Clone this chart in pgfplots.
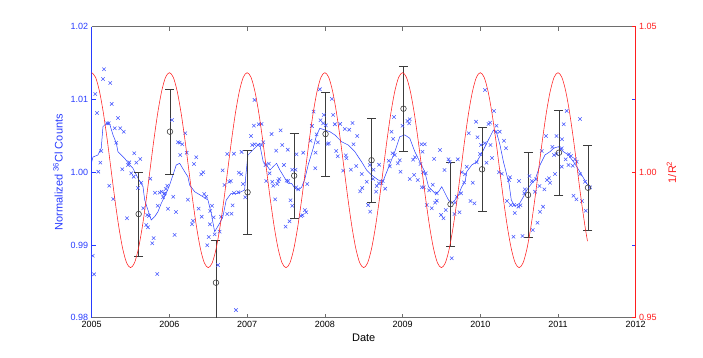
\documentclass[border=0pt]{standalone}
\usepackage{fontspec}
\setmainfont{Liberation Sans}
\usepackage{pgfplots}
\usepackage{pgfplotstable}
\pgfplotsset{compat=1.18}
\definecolor{mblue}{RGB}{40,60,255}
\definecolor{mred}{RGB}{255,30,30}
\definecolor{mgray}{RGB}{110,110,110}
\definecolor{ebar}{RGB}{60,60,60}

\pgfplotstableread{
x y
2005.158 1.01415
2005.145 1.01282
2005.239 1.01227
2005.046 1.01075
2005.257 1.00938
2005.068 1.00814
2005.338 1.00745
2005.201 1.00672
2005.219 1.00672
2005.296 1.00604
2005.368 1.00604
2005.412 1.00557
2005.316 1.00406
2005.123 1.00292
2005.548 1.00260
2005.625 1.00182
2005.574 1.00131
2005.484 1.00136
2005.467 1.00099
2005.111 1.00131
2005.394 1.00040
2005.085 1.00007
2005.509 0.99985
2005.540 0.99938
2005.754 0.99911
2006.033 1.00718
2006.204 1.00535
2006.110 1.00411
2006.132 1.00406
2006.165 1.00384
2006.222 1.00268
2006.139 1.00237
2006.345 1.00205
2006.316 1.00113
2006.435 0.99999
2006.409 0.99971
2006.685 1.00026
2006.744 1.00250
2006.830 1.00254
2006.929 1.00278
2006.894 0.99993
2006.924 0.99971
2006.788 0.99879
2007.096 1.00993
2007.087 1.00639
2007.049 1.00498
2007.065 1.00374
2007.096 1.00384
2007.139 1.00374
2007.151 1.00659
2005.226 0.99814
2005.278 0.99632
2005.454 0.99366
2005.595 0.99783
2005.638 0.99856
2005.664 0.99504
2005.715 0.99412
2005.737 0.99398
2005.702 0.99274
2005.724 0.99242
2005.797 0.99095
2005.779 0.99022
2005.849 0.99539
2005.814 0.99718
2005.874 0.99718
2005.900 0.99732
2005.930 0.99700
2005.952 0.99769
2005.972 0.99814
2005.917 0.99655
2005.939 0.99710
2005.981 0.99498
2006.049 0.99663
2006.084 0.99453
2006.067 0.99137
2005.013 0.98852
2005.030 0.98596
2005.844 0.98600
2006.238 0.99622
2006.376 0.99498
2006.415 0.99388
2006.303 0.99333
2006.290 0.99284
2006.448 0.99700
2006.474 0.99663
2006.547 0.99539
2006.525 0.99467
2006.569 0.99380
2006.521 0.99284
2006.505 0.99109
2006.582 0.99146
2006.646 0.99182
2006.487 0.98995
2006.624 0.98724
2006.663 0.99388
2006.744 0.99425
2006.800 0.99429
2006.813 0.99545
2006.710 0.99824
2006.770 0.99869
2006.830 0.99714
2006.885 0.99724
2006.975 0.99655
2006.946 0.99838
2006.856 0.98105
2007.186 1.00663
2007.186 1.00374
2007.207 1.00411
2007.315 1.00525
2007.431 1.00576
2007.451 1.00374
2007.374 1.00296
2007.524 1.00309
2007.636 1.00246
2007.721 1.00268
2007.238 1.00099
2007.280 1.00117
2007.473 1.00099
2007.580 1.00034
2007.289 0.99985
2007.323 0.99869
2007.400 0.99879
2007.413 0.99907
2007.528 0.99879
2007.623 1.00034
2007.936 1.01140
2008.090 1.01007
2007.855 1.00832
2007.987 1.00787
2008.107 1.00787
2007.833 1.00635
2007.945 1.00714
2007.978 1.00672
2008.013 1.00645
2008.129 1.00659
2008.197 1.00663
2007.894 1.00521
2007.816 1.00433
2007.910 1.00411
2008.035 1.00388
2008.052 1.00397
2007.881 1.00268
2008.146 1.00292
2008.167 1.00219
2008.270 1.00232
2008.356 1.00677
2008.257 1.00594
2008.313 1.00584
2008.416 1.00498
2008.369 1.00384
2008.236 1.00021
2008.335 1.00034
2008.403 1.00085
2008.279 1.00191
2007.876 1.00054
2008.476 0.99975
2008.579 1.00099
2008.626 1.00034
2008.698 1.00103
2008.540 0.99869
2008.621 0.99907
2008.746 0.99879
2008.729 0.99847
2008.871 1.00260
2008.900 1.00237
2008.965 1.00164
2008.939 1.00122
2008.823 1.00158
2008.836 1.00081
2008.974 1.00007
2008.891 1.00759
2008.858 1.00557
2008.879 1.00457
2008.999 1.00639
2009.064 1.00704
2009.093 1.00727
2009.084 1.00672
2009.161 1.00205
2009.231 1.00113
2009.136 1.00172
2009.244 1.00384
2009.286 1.00384
2009.149 0.99962
2009.196 0.99893
2009.264 0.99999
2009.093 0.99907
2007.245 0.99879
2007.335 0.99814
2007.387 0.99838
2007.508 0.99883
2007.361 0.99627
2007.559 0.99614
2007.580 0.99539
2007.631 0.99792
2007.657 0.99765
2007.773 0.99838
2007.743 0.99480
2007.760 0.99449
2007.692 0.99398
2007.713 0.99408
2007.546 0.99325
2007.495 0.99251
2008.480 0.99783
2008.454 0.99737
2008.557 0.99549
2008.583 0.99457
2008.660 0.99732
2008.669 0.99810
2008.695 0.99847
2008.776 0.99773
2009.273 0.99792
2009.257 1.00282
2009.406 1.00182
2009.483 1.00305
2009.539 1.00030
2009.591 1.00177
2009.608 1.00144
2009.711 1.00177
2009.299 0.99985
2009.389 0.99828
2010.062 1.01130
2010.177 1.00842
2009.946 1.00694
2009.852 1.00535
2010.105 1.00663
2010.126 1.00681
2010.208 1.00639
2010.203 1.00557
2010.250 1.00557
2009.964 1.00480
2010.010 1.00374
2010.058 1.00397
2010.131 1.00374
2010.306 1.00433
2010.332 1.00329
2009.997 1.00250
2010.152 1.00195
2010.080 1.00131
2009.955 1.00136
2009.826 1.00076
2009.762 0.99999
2009.804 0.99971
2010.242 0.99999
2010.277 0.99979
2010.383 0.99930
2010.370 0.99893
2009.903 0.99856
2010.499 0.99879
2010.633 0.99948
2010.662 0.99879
2010.717 0.99902
2010.791 1.00292
2010.846 1.00498
2010.980 1.00498
2011.052 1.00452
2011.074 1.00659
2011.112 1.00842
2010.928 1.00347
2011.048 1.00329
2010.980 1.00250
2010.949 1.00237
2011.142 1.00246
2011.168 1.00223
2011.099 1.00177
2011.219 1.00177
2011.241 1.00144
2011.283 1.00732
2011.048 1.00076
2011.134 1.00099
2010.859 0.99893
2010.885 0.99916
2010.962 0.99975
2011.190 1.00089
2011.283 0.99971
2011.347 0.99869
2009.248 0.99792
2009.342 0.99751
2009.441 0.99710
2009.312 0.99549
2009.376 0.99504
2009.441 0.99608
2009.419 0.99581
2009.496 0.99412
2009.527 0.99366
2009.556 0.99480
2009.668 0.99425
2009.732 0.99449
2009.676 0.99581
2009.698 0.99663
2009.753 0.99710
2009.792 0.99861
2009.874 0.99604
2009.925 0.99572
2009.633 0.98816
2010.345 0.99604
2010.392 0.99549
2010.435 0.99549
2010.491 0.99526
2010.517 0.99545
2010.443 0.99439
2010.574 0.99765
2010.566 0.99710
2010.427 0.99113
2010.543 0.99123
2010.676 0.99205
2010.736 0.99306
2010.769 0.99457
2010.808 0.99526
2010.705 0.99732
2010.761 0.99810
2010.825 0.99765
2010.897 0.99856
2011.199 0.99677
2011.237 0.99627
2011.309 0.99604
2011.357 0.99471
2011.413 0.99792
}\crosses

\pgfplotstableread{
x y
2005.000 1.00144
2005.017 1.00209
2005.081 1.00237
2005.123 1.00333
2005.145 1.00626
2005.188 1.00672
2005.231 1.00663
2005.274 1.00512
2005.316 1.00402
2005.338 1.00282
2005.381 1.00237
2005.424 1.00191
2005.489 1.00099
2005.531 1.00054
2005.553 1.00007
2005.595 0.99920
2005.660 0.99801
2005.682 0.99618
2005.724 0.99480
2005.766 0.99343
2005.810 0.99388
2005.853 0.99457
2005.895 0.99572
2005.959 0.99710
2006.003 0.99824
2006.088 1.00099
2006.132 1.00122
2006.196 1.00007
2006.238 0.99938
2006.260 0.99824
2006.325 0.99732
2006.431 0.99663
2006.496 0.99618
2006.538 0.99435
2006.582 0.99182
2006.646 0.99297
2006.688 0.99388
2006.731 0.99618
2006.795 0.99710
2006.881 0.99710
2006.968 0.99755
2006.984 0.99962
2007.010 1.00237
2007.096 1.00329
2007.160 1.00397
2007.207 1.00144
2007.251 1.00099
2007.293 1.00030
2007.335 1.00076
2007.379 1.00122
2007.421 1.00030
2007.486 0.99916
2007.528 0.99847
2007.572 0.99847
2007.614 0.99779
2007.657 0.99755
2007.701 0.99792
2007.743 0.99907
2007.785 1.00099
2007.850 1.00329
2007.894 1.00512
2007.936 1.00604
2008.000 1.00580
2008.064 1.00557
2008.129 1.00512
2008.215 1.00419
2008.300 1.00374
2008.386 1.00282
2008.472 1.00144
2008.537 1.00030
2008.601 0.99962
2008.686 0.99893
2008.750 0.99879
2008.815 1.00054
2008.900 1.00282
2008.965 1.00488
2009.029 1.00512
2009.093 1.00466
2009.158 1.00282
2009.222 1.00144
2009.286 1.00007
2009.334 0.99801
2009.419 0.99710
2009.463 0.99732
2009.505 0.99801
2009.547 0.99710
2009.591 0.99618
2009.633 0.99572
2009.676 0.99618
2009.720 0.99687
2009.762 0.99801
2009.804 0.99869
2009.826 1.00007
2009.891 1.00099
2009.955 1.00144
2010.019 1.00260
2010.083 1.00397
2010.126 1.00488
2010.170 1.00580
2010.212 1.00535
2010.254 1.00374
2010.298 1.00144
2010.341 0.99962
2010.370 0.99847
2010.399 0.99618
2010.443 0.99535
2010.507 0.99572
2010.556 0.99663
2010.598 0.99755
2010.662 0.99847
2010.705 0.99893
2010.769 1.00099
2010.833 1.00237
2010.897 1.00282
2010.941 1.00329
2011.006 1.00351
2011.070 1.00282
2011.134 1.00237
2011.199 1.00144
2011.241 1.00076
2011.305 0.99962
2011.369 0.99847
2011.395 0.99810
}\smoothed

\pgfplotstableread{
x y e
2005.604 0.99425 0.0058
2006.007 1.00557 0.0058
2006.599 0.98481 0.0058
2007.006 0.99724 0.0058
2007.605 0.99952 0.0058
2008.009 1.00525 0.0058
2008.601 1.00164 0.0058
2009.012 1.00873 0.0058
2009.617 0.99559 0.0058
2010.023 1.00040 0.0058
2010.615 0.99687 0.0058
2011.013 1.00268 0.0058
2011.386 0.99787 0.0058
}\bins

\pgfplotstableread{
x y
2005.00 1.0342
2005.05 1.0326
2005.10 1.0278
2005.15 1.0204
2005.20 1.0111
2005.25 1.0007
2005.30 0.9903
2005.35 0.9810
2005.40 0.9736
2005.45 0.9688
2005.50 0.9672
2005.55 0.9688
2005.60 0.9736
2005.65 0.9810
2005.70 0.9903
2005.75 1.0007
2005.80 1.0111
2005.85 1.0204
2005.90 1.0278
2005.95 1.0326
2006.00 1.0342
2006.05 1.0326
2006.10 1.0278
2006.15 1.0204
2006.20 1.0111
2006.25 1.0007
2006.30 0.9903
2006.35 0.9810
2006.40 0.9736
2006.45 0.9688
2006.50 0.9672
2006.55 0.9688
2006.60 0.9736
2006.65 0.9810
2006.70 0.9903
2006.75 1.0007
2006.80 1.0111
2006.85 1.0204
2006.90 1.0278
2006.95 1.0326
2007.00 1.0342
2007.05 1.0326
2007.10 1.0278
2007.15 1.0204
2007.20 1.0111
2007.25 1.0007
2007.30 0.9903
2007.35 0.9810
2007.40 0.9736
2007.45 0.9688
2007.50 0.9672
2007.55 0.9688
2007.60 0.9736
2007.65 0.9810
2007.70 0.9903
2007.75 1.0007
2007.80 1.0111
2007.85 1.0204
2007.90 1.0278
2007.95 1.0326
2008.00 1.0342
2008.05 1.0326
2008.10 1.0278
2008.15 1.0204
2008.20 1.0111
2008.25 1.0007
2008.30 0.9903
2008.35 0.9810
2008.40 0.9736
2008.45 0.9688
2008.50 0.9672
2008.55 0.9688
2008.60 0.9736
2008.65 0.9810
2008.70 0.9903
2008.75 1.0007
2008.80 1.0111
2008.85 1.0204
2008.90 1.0278
2008.95 1.0326
2009.00 1.0342
2009.05 1.0326
2009.10 1.0278
2009.15 1.0204
2009.20 1.0111
2009.25 1.0007
2009.30 0.9903
2009.35 0.9810
2009.40 0.9736
2009.45 0.9688
2009.50 0.9672
2009.55 0.9688
2009.60 0.9736
2009.65 0.9810
2009.70 0.9903
2009.75 1.0007
2009.80 1.0111
2009.85 1.0204
2009.90 1.0278
2009.95 1.0326
2010.00 1.0342
2010.05 1.0326
2010.10 1.0278
2010.15 1.0204
2010.20 1.0111
2010.25 1.0007
2010.30 0.9903
2010.35 0.9810
2010.40 0.9736
2010.45 0.9688
2010.50 0.9672
2010.55 0.9688
2010.60 0.9736
2010.65 0.9810
2010.70 0.9903
2010.75 1.0007
2010.80 1.0111
2010.85 1.0204
2010.90 1.0278
2010.95 1.0326
2011.00 1.0342
2011.05 1.0326
2011.10 1.0278
2011.15 1.0204
2011.20 1.0111
2011.25 1.0007
2011.30 0.9903
2011.35 0.9810
2011.38 0.9763
}\invr

\begin{document}
\begin{tikzpicture}
\pgfplotsset{
  common/.style={
    scale only axis, width=544pt, height=291pt,
    xmin=2005, xmax=2012,
    at={(0,0)}, anchor=south west,
    /pgf/number format/assume math mode=true,
    tick label style={font=\fontsize{9}{10}\selectfont},
    label style={font=\fontsize{11}{12}\selectfont},
    major tick length=4pt, tick align=inside,
  }
}
\begin{axis}[common,
  ymin=0.98, ymax=1.02,
  ytick={0.98,0.99,1.00,1.01,1.02},
  xtick={2005,2006,2007,2008,2009,2010,2011,2012},
  xticklabel style={/pgf/number format/1000 sep={}},
  yticklabel style={/pgf/number format/fixed, /pgf/number format/fixed zerofill, /pgf/number format/precision=2, text=mblue},
  separate axis lines,
  x axis line style={mgray, line width=0.8pt},
  y axis line style={mblue, line width=0.8pt},
  xtick style={mgray, line width=0.6pt},
  ytick style={mblue, line width=0.6pt},
  xlabel={Date},
  ylabel={Normalized \textsuperscript{36}Cl Counts},
  ylabel style={at={(axis description cs:-0.062,0.5)}, anchor=center, text=mblue},
  xlabel style={at={(axis description cs:0.5,-0.07)}, anchor=center},
]
\coordinate (SW) at (rel axis cs:0,0);
\addplot[only marks, mark=x, mark size=2.4pt, mblue!85, mark options={line width=0.55pt}] table {\crosses};
\addplot[mblue, line width=0.5pt] table {\smoothed};
\addplot[only marks, mark=o, mark size=2.8pt, ebar, mark options={line width=0.6pt},
  error bars/.cd, y dir=both, y explicit,
  error bar style={ebar, line width=0.6pt},
  error mark options={rotate=90, mark size=4.5pt, ebar, line width=0.6pt}]
  table[y error=e] {\bins};
\end{axis}
\begin{axis}[common,
  ymin=0.95, ymax=1.05,
  axis x line=none, axis y line*=right,
  ytick={0.95,1.00,1.05},
  yticklabel style={/pgf/number format/fixed, /pgf/number format/fixed zerofill, /pgf/number format/precision=2, text=mred},
  y axis line style={mred, line width=0.8pt},
  ytick style={mred, line width=0.6pt},
  ylabel={1/R\textsuperscript{2}},
  ylabel style={at={(axis description cs:1.066,0.5)}, anchor=center, rotate=0, text=mred},
]
\addplot[mred, line width=0.55pt, smooth] table {\invr};
\end{axis}
\pgfresetboundingbox
\path ([xshift=-91.7pt,yshift=-40.3pt]SW) rectangle ++(703pt,358pt);
\end{tikzpicture}
\end{document}
